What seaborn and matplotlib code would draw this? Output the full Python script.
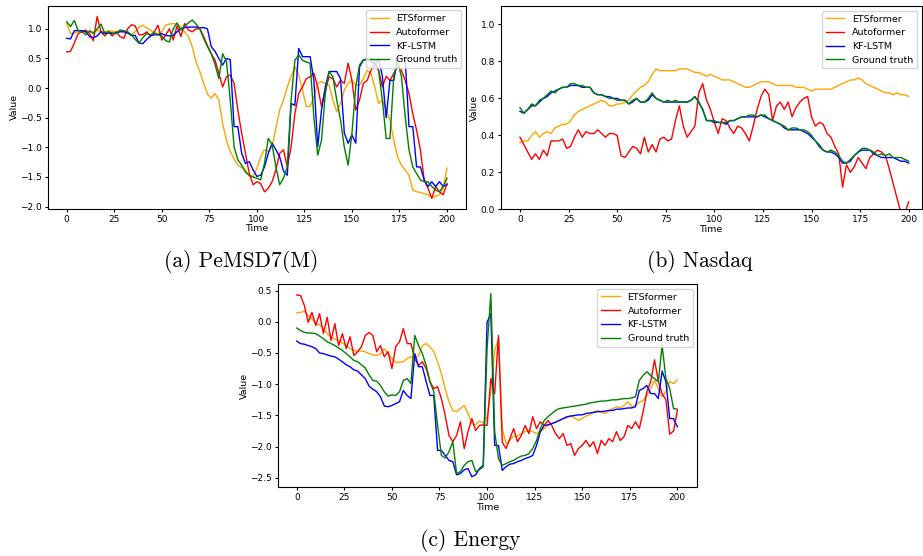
import matplotlib
matplotlib.use("Agg")
import matplotlib.pyplot as plt
import seaborn as sns

# time axis shared by all three panels (values read every 2 steps)
time_steps = list(range(0, 201, 2))
series_names = ["ETSformer", "Autoformer", "KF-LSTM", "Ground truth"]
series_colors = ["orange", "red", "blue", "green"]

# (a) PeMSD7(M)
pems_ets = [1.09, 0.92, 0.93, 0.95, 0.96, 0.95, 0.94, 0.95, 0.97, 0.96,
            0.95, 0.97, 0.96, 0.95, 0.97, 0.96, 0.93, 0.90, 0.95, 1.03,
            1.06, 1.02, 0.98, 0.93, 0.92, 0.95, 1.06, 1.08, 1.09, 1.08,
            1.03, 0.95, 0.87, 0.70, 0.44, 0.28, 0.08, -0.10, -0.17, -0.09,
            -0.20, -0.60, -0.88, -1.07, -1.19, -1.30, -1.34, -1.38, -1.49, -1.49,
            -1.35, -1.16, -1.04, -1.07, -0.99, -0.68, -0.37, -0.20, 0.02, 0.20,
            0.36, 0.22, -0.03, -0.31, -0.31, -0.15, 0.08, 0.11, 0.08, 0.05,
            -0.20, -0.40, -0.26, -0.03, 0.08, 0.13, 0.05, 0.05, 0.16, 0.30,
            0.25, 0.02, -0.26, -0.20, -0.37, -0.54, -0.88, -1.16, -1.30, -1.38,
            -1.47, -1.72, -1.75, -1.76, -1.78, -1.80, -1.84, -1.83, -1.80, -1.69,
            -1.35]
pems_auto = [0.61, 0.62, 0.76, 0.92, 0.95, 0.98, 0.92, 0.80, 1.21, 0.95,
             0.88, 0.95, 0.88, 0.95, 0.87, 0.84, 1.00, 1.07, 1.05, 0.90,
             0.90, 0.95, 0.88, 0.95, 1.06, 0.81, 0.89, 1.00, 0.81, 1.05,
             0.87, 1.09, 0.98, 0.95, 1.00, 1.00, 0.87, 0.72, 0.58, 0.47,
             0.25, 0.02, 0.19, 0.22, 0.08, -0.37, -0.76, -1.10, -1.44, -1.63,
             -1.58, -1.61, -1.75, -1.69, -1.58, -1.38, -1.10, -1.04, -1.33, -0.99,
             -0.43, -0.09, 0.02, 0.16, 0.19, 0.25, 0.02, -0.31, -0.03, 0.19,
             0.16, 0.02, 0.13, 0.08, 0.42, 0.13, -0.37, -0.20, 0.08, 0.13,
             0.30, 0.40, 0.30, 0.02, 0.20, 0.13, 0.25, 0.36, 0.30, 0.13,
             -0.09, -0.43, -0.71, -1.04, -1.55, -1.69, -1.86, -1.66, -1.75, -1.80,
             -1.61]
pems_kf = [0.84, 0.83, 0.97, 0.97, 0.97, 0.95, 0.87, 0.85, 0.88, 0.95,
           0.92, 0.93, 0.92, 0.93, 0.95, 0.95, 0.93, 0.89, 0.89, 0.76,
           0.75, 0.82, 0.88, 0.90, 0.90, 0.92, 0.89, 0.88, 0.89, 0.95,
           1.00, 1.02, 1.03, 1.03, 1.03, 1.02, 1.02, 1.00, 0.70, 0.62,
           0.50, 0.39, 0.50, 0.48, -0.65, -0.65, -1.10, -1.27, -1.24, -1.38,
           -1.49, -1.47, -1.33, -1.10, -0.93, -1.04, -1.16, -1.40, -1.47, -0.26,
           -0.29, 0.67, 0.53, 0.53, 0.53, 0.13, -0.99, -0.37, 0.02, 0.28,
           0.28, 0.28, 0.16, -0.76, -0.93, -0.79, -0.93, 0.36, 0.47, 0.50,
           0.45, 0.40, 0.50, 0.20, -0.50, 0.13, 0.13, 0.50, 0.50, 0.50,
           -0.65, -0.65, -1.33, -1.33, -1.55, -1.66, -1.58, -1.66, -1.58, -1.66,
           -1.63]
pems_gt = [1.12, 1.04, 1.14, 0.97, 0.95, 0.90, 0.97, 0.92, 1.00, 1.08,
           0.93, 0.95, 0.93, 0.92, 0.98, 0.97, 0.95, 0.90, 0.82, 0.76,
           0.85, 0.92, 0.90, 0.93, 0.90, 0.88, 0.80, 0.78, 1.00, 1.10,
           0.98, 1.05, 1.10, 1.15, 1.08, 1.00, 0.84, 0.70, 0.58, 0.40,
           0.16, 0.58, 0.45, -0.20, -0.99, -1.21, -1.30, -1.42, -1.47, -1.50,
           -1.52, -1.55, -1.27, -0.85, -0.95, -1.33, -1.63, -1.52, -1.33, -0.20,
           0.47, 0.56, 0.47, 0.44, 0.42, -0.50, -1.13, -0.88, -0.09, 0.28,
           0.19, -0.20, -0.54, -1.00, -1.30, -0.76, 0.02, 0.39, 0.48, 0.47,
           0.50, 0.45, 0.30, -0.20, -0.85, -0.85, 0.20, 0.45, 0.20, -0.48,
           -1.04, -1.33, -1.44, -1.55, -1.58, -1.58, -1.66, -1.72, -1.75, -1.66,
           -1.52]

# (b) Nasdaq
nasdaq_ets = [0.36, 0.37, 0.37, 0.40, 0.42, 0.39, 0.41, 0.42, 0.41, 0.44,
              0.45, 0.46, 0.46, 0.48, 0.51, 0.53, 0.54, 0.55, 0.56, 0.57,
              0.58, 0.59, 0.58, 0.56, 0.56, 0.57, 0.57, 0.58, 0.59, 0.62,
              0.64, 0.66, 0.67, 0.69, 0.73, 0.76, 0.75, 0.75, 0.75, 0.75,
              0.75, 0.76, 0.76, 0.76, 0.75, 0.74, 0.74, 0.73, 0.72, 0.73,
              0.72, 0.71, 0.70, 0.70, 0.70, 0.69, 0.68, 0.67, 0.66, 0.66,
              0.67, 0.68, 0.69, 0.69, 0.69, 0.68, 0.67, 0.67, 0.67, 0.67,
              0.67, 0.66, 0.66, 0.66, 0.65, 0.64, 0.65, 0.65, 0.65, 0.65,
              0.65, 0.66, 0.67, 0.68, 0.69, 0.70, 0.70, 0.71, 0.70, 0.68,
              0.67, 0.66, 0.65, 0.64, 0.63, 0.63, 0.62, 0.63, 0.62, 0.62,
              0.61]
nasdaq_auto = [0.39, 0.35, 0.31, 0.27, 0.30, 0.27, 0.32, 0.29, 0.37, 0.37,
               0.37, 0.38, 0.33, 0.34, 0.39, 0.43, 0.39, 0.42, 0.41, 0.41,
               0.43, 0.41, 0.39, 0.41, 0.41, 0.40, 0.29, 0.28, 0.31, 0.34,
               0.33, 0.30, 0.39, 0.31, 0.35, 0.31, 0.38, 0.39, 0.37, 0.38,
               0.48, 0.56, 0.45, 0.39, 0.42, 0.45, 0.63, 0.68, 0.59, 0.54,
               0.47, 0.41, 0.49, 0.48, 0.44, 0.41, 0.45, 0.44, 0.41, 0.37,
               0.45, 0.54, 0.61, 0.65, 0.62, 0.48, 0.56, 0.58, 0.54, 0.58,
               0.50, 0.55, 0.58, 0.60, 0.61, 0.50, 0.45, 0.47, 0.46, 0.41,
               0.39, 0.34, 0.30, 0.12, 0.24, 0.20, 0.23, 0.28, 0.25, 0.22,
               0.28, 0.30, 0.32, 0.31, 0.29, 0.22, 0.14, 0.06, -0.02, -0.02,
               0.04]
nasdaq_kf = [0.53, 0.52, 0.54, 0.56, 0.56, 0.58, 0.60, 0.61, 0.63, 0.64,
             0.65, 0.66, 0.66, 0.67, 0.67, 0.67, 0.66, 0.66, 0.66, 0.63,
             0.62, 0.62, 0.61, 0.61, 0.60, 0.60, 0.59, 0.59, 0.57, 0.58,
             0.60, 0.58, 0.58, 0.59, 0.62, 0.60, 0.59, 0.58, 0.58, 0.58,
             0.58, 0.58, 0.58, 0.58, 0.59, 0.61, 0.58, 0.54, 0.48, 0.48,
             0.47, 0.47, 0.47, 0.46, 0.48, 0.48, 0.49, 0.50, 0.50, 0.50,
             0.50, 0.50, 0.51, 0.50, 0.49, 0.48, 0.47, 0.46, 0.44, 0.43,
             0.43, 0.43, 0.43, 0.42, 0.41, 0.39, 0.37, 0.34, 0.32, 0.31,
             0.31, 0.30, 0.28, 0.25, 0.25, 0.26, 0.29, 0.31, 0.32, 0.32,
             0.32, 0.30, 0.29, 0.28, 0.28, 0.28, 0.28, 0.27, 0.26, 0.26,
             0.25]
nasdaq_gt = [0.55, 0.52, 0.54, 0.57, 0.56, 0.59, 0.60, 0.62, 0.64, 0.63,
             0.65, 0.66, 0.66, 0.68, 0.68, 0.67, 0.67, 0.66, 0.66, 0.63,
             0.62, 0.62, 0.61, 0.60, 0.60, 0.59, 0.59, 0.59, 0.57, 0.59,
             0.60, 0.58, 0.58, 0.60, 0.63, 0.60, 0.59, 0.58, 0.59, 0.58,
             0.59, 0.58, 0.58, 0.58, 0.59, 0.61, 0.58, 0.54, 0.48, 0.48,
             0.48, 0.47, 0.47, 0.47, 0.48, 0.48, 0.49, 0.50, 0.50, 0.51,
             0.51, 0.50, 0.51, 0.51, 0.49, 0.48, 0.47, 0.46, 0.45, 0.43,
             0.44, 0.44, 0.43, 0.43, 0.42, 0.40, 0.37, 0.35, 0.32, 0.31,
             0.32, 0.31, 0.29, 0.26, 0.25, 0.27, 0.29, 0.31, 0.33, 0.33,
             0.32, 0.31, 0.29, 0.30, 0.29, 0.30, 0.28, 0.28, 0.28, 0.27,
             0.26]

# (c) Energy
energy_ets = [0.14, 0.15, 0.17, 0.10, 0.04, -0.03, -0.05, -0.11, -0.19, -0.24,
              -0.28, -0.31, -0.34, -0.38, -0.43, -0.46, -0.47, -0.47, -0.48, -0.51,
              -0.53, -0.54, -0.51, -0.43, -0.51, -0.59, -0.65, -0.65, -0.64, -0.59,
              -0.56, -0.59, -0.54, -0.38, -0.35, -0.40, -0.48, -0.64, -0.83, -1.07,
              -1.28, -1.42, -1.44, -1.39, -1.34, -1.47, -1.63, -1.65, -1.59, -1.62,
              -1.52, -1.12, -0.45, -0.28, -1.71, -1.95, -1.90, -1.83, -1.83, -1.79,
              -1.76, -1.74, -1.76, -1.79, -1.76, -1.71, -1.66, -1.63, -1.60, -1.58,
              -1.55, -1.54, -1.50, -1.54, -1.58, -1.55, -1.51, -1.49, -1.45, -1.42,
              -1.44, -1.47, -1.43, -1.39, -1.36, -1.38, -1.34, -1.28, -1.36, -1.34,
              -1.29, -1.26, -1.18, -1.07, -0.94, -1.07, -1.20, -1.12, -0.96, -0.99,
              -0.93]
energy_auto = [0.43, 0.42, 0.26, -0.01, 0.15, -0.06, 0.13, -0.19, 0.07, -0.30,
               -0.03, -0.38, -0.19, -0.43, -0.24, -0.54, -0.48, -0.40, -0.22, -0.17,
               -0.22, -0.48, -0.38, -0.56, -0.48, -0.75, -0.40, -0.32, -0.11, -0.35,
               -0.35, -0.59, -0.70, -0.64, -0.75, -0.96, -1.07, -1.04, -1.23, -1.50,
               -1.82, -1.92, -1.82, -1.60, -2.03, -1.76, -1.55, -1.74, -1.66, -1.65,
               -1.66, -0.91, -1.15, -0.22, -1.93, -2.03, -1.87, -1.71, -1.92, -1.82,
               -1.66, -1.79, -1.52, -1.71, -1.60, -1.66, -1.58, -1.66, -1.79, -1.87,
               -1.79, -1.98, -1.95, -2.14, -2.03, -1.98, -1.90, -2.00, -1.92, -2.11,
               -1.90, -1.98, -1.87, -1.92, -1.76, -1.90, -1.84, -1.66, -1.71, -1.60,
               -1.71, -1.44, -1.12, -0.96, -0.61, -0.95, -1.15, -1.25, -1.80, -1.75,
               -1.42]
energy_kf = [-0.31, -0.35, -0.36, -0.38, -0.40, -0.43, -0.50, -0.51, -0.53, -0.55,
             -0.56, -0.60, -0.64, -0.69, -0.72, -0.77, -0.79, -0.85, -0.91, -1.03,
             -1.08, -1.12, -1.20, -1.35, -1.36, -1.34, -1.31, -1.28, -1.10, -1.18,
             -1.23, -0.51, -0.72, -0.72, -0.96, -1.18, -1.18, -2.06, -2.06, -2.14,
             -2.22, -2.24, -2.45, -2.43, -2.37, -2.35, -2.48, -2.45, -2.35, -2.30,
             -0.01, 0.13, -1.98, -1.98, -2.38, -2.32, -2.28, -2.27, -2.24, -2.22,
             -2.19, -2.17, -2.14, -1.98, -1.76, -1.66, -1.65, -1.63, -1.61, -1.58,
             -1.55, -1.52, -1.51, -1.50, -1.49, -1.49, -1.47, -1.46, -1.45, -1.44,
             -1.44, -1.43, -1.42, -1.42, -1.40, -1.40, -1.39, -1.38, -1.38, -1.36,
             -1.10, -1.07, -1.02, -1.15, -1.15, -1.23, -0.79, -0.96, -1.55, -1.55,
             -1.68]
energy_gt = [-0.10, -0.14, -0.17, -0.18, -0.18, -0.19, -0.23, -0.27, -0.32, -0.35,
             -0.38, -0.42, -0.46, -0.51, -0.56, -0.62, -0.64, -0.69, -0.74, -0.85,
             -0.94, -0.95, -1.02, -1.12, -1.19, -1.17, -1.18, -1.12, -0.94, -0.91,
             -0.99, -0.22, -0.38, -0.51, -0.70, -0.96, -1.12, -1.66, -2.14, -2.18,
             -2.08, -1.92, -2.43, -2.40, -2.30, -2.24, -2.22, -2.40, -2.37, -2.32,
             -0.43, 0.45, -1.76, -2.19, -2.30, -2.27, -2.24, -2.22, -2.18, -2.15,
             -2.14, -2.11, -2.03, -1.90, -1.71, -1.58, -1.52, -1.47, -1.42, -1.39,
             -1.38, -1.37, -1.36, -1.35, -1.34, -1.33, -1.32, -1.30, -1.29, -1.28,
             -1.27, -1.27, -1.26, -1.25, -1.25, -1.24, -1.23, -1.23, -1.22, -1.20,
             -0.94, -0.86, -0.80, -0.86, -0.91, -0.96, -0.38, -0.91, -1.07, -1.39,
             -1.40]

captions = ["(a) PeMSD7(M)", "(b) Nasdaq", "(c) Energy"]

fig = plt.figure(figsize=(9.23, 5.56), dpi=100)
ax_a = fig.add_axes([0.0517, 0.6241, 0.4532, 0.3656])
ax_b = fig.add_axes([0.5423, 0.6236, 0.4563, 0.3656])
ax_c = fig.add_axes([0.3009, 0.1236, 0.4546, 0.3651])

panels = [
    (ax_a, [pems_ets, pems_auto, pems_kf, pems_gt], (-10, 210), (-2.04, 1.39)),
    (ax_b, [nasdaq_ets, nasdaq_auto, nasdaq_kf, nasdaq_gt], (-10, 206.7), (0, 1.1)),
    (ax_c, [energy_ets, energy_auto, energy_kf, energy_gt], (-10, 210.5), (-2.65, 0.6)),
]

for ax, data, xlim, ylim in panels:
    for values, name, color in zip(data, series_names, series_colors):
        sns.lineplot(x=time_steps, y=values, ax=ax, color=color, label=name, linewidth=1.0)
    ax.set_xlim(*xlim)
    ax.set_ylim(*ylim)
    ax.set_xticks([0, 25, 50, 75, 100, 125, 150, 175, 200])
    ax.set_xlabel("Time", fontsize=6.8, labelpad=0.5)
    ax.set_ylabel("Value", fontsize=6.8, labelpad=1)
    ax.tick_params(labelsize=6.5, length=2.5, pad=1.5)
    ax.legend(loc="upper right", fontsize=6.8)

# figure captions in a LaTeX-like serif
fig.text(0.261, 0.529, captions[0], ha="center", va="center", family="cmr10", fontsize=15.5)
fig.text(0.758, 0.529, captions[1], ha="center", va="center", family="cmr10", fontsize=15.5)
fig.text(0.509, 0.027, captions[2], ha="center", va="center", family="cmr10", fontsize=15.5)

fig.savefig("out.png", dpi=100)
